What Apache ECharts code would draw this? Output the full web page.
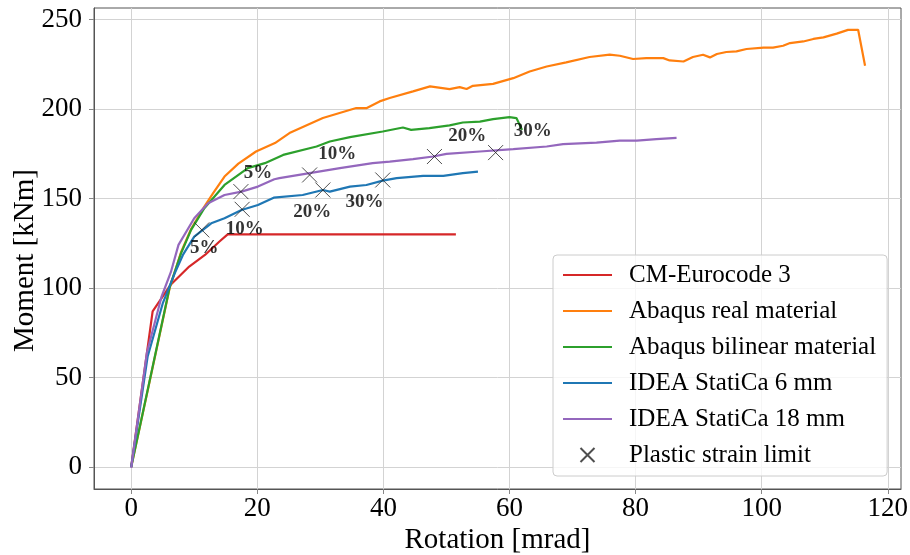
<!DOCTYPE html>
<html>
<head>
<meta charset="utf-8">
<script src="https://cdn.jsdelivr.net/npm/echarts@6/dist/echarts.min.js"></script>
<style>
html,body{margin:0;padding:0;background:#fff;}
#chart{width:910px;height:555px;}
</style>
</head>
<body>
<div id="chart"></div>
<script>
// ---- data ----
var seriesNames = ['CM-Eurocode 3','Abaqus real material','Abaqus bilinear material','IDEA StatiCa 6 mm','IDEA StatiCa 18 mm'];
var markerName = 'Plastic strain limit';

var redX = [0, 3.4, 6.3, 9.2, 11.7, 14, 15.3, 51.5];
var redY = [0, 87, 102, 112, 118.5, 126, 130, 130];

var orangeX = [0, 3, 6.1, 7.9, 9.5, 11.6, 13, 14.8, 17, 19.8, 22.8, 25.1, 30.4, 35.7, 37.3, 39.4, 41, 44.7, 47.4, 50.5, 52.1, 53.2, 54.2, 57.4, 60.6, 63.2, 65.9, 69, 72.7, 75.9, 77.5, 79.6, 81.7, 84.4, 85.4, 87.6, 89.1, 90.7, 91.8, 92.9, 94.4, 96, 97.6, 100.3, 101.8, 103.4, 104.5, 106.6, 108.2, 109.8, 111.9, 113.7, 115.3, 116.4];
var orangeY = [0, 49, 100, 120, 133, 145.5, 153, 162.3, 169.5, 176.3, 181, 186.6, 195, 200.6, 200.5, 204.3, 206.2, 209.9, 212.7, 211.2, 212.3, 211.2, 213, 214.1, 217.3, 221, 223.8, 226.1, 229.1, 230.4, 229.8, 228, 228.5, 228.5, 227.2, 226.6, 229.1, 230.4, 228.9, 230.8, 231.9, 232.3, 233.6, 234.4, 234.4, 235.4, 236.9, 237.8, 239.2, 240.1, 242.2, 244.3, 244.3, 224.2];

var greenX = [0, 6.1, 7.9, 9.5, 11.6, 14.8, 18.5, 21.2, 24.1, 29.4, 31.5, 34.7, 39.9, 43.1, 44.4, 47.3, 50.5, 52.6, 55.3, 57.4, 60, 61.1, 62];
var greenY = [0, 100.5, 119.4, 132.5, 144.6, 157.6, 167, 169.8, 174.4, 179.1, 181.9, 184.3, 187.5, 189.7, 188.4, 189.4, 190.9, 192.5, 193, 194.4, 195.5, 195, 188.4];

var blueX = [0, 2.6, 5, 6.9, 8.2, 10, 12.7, 14.8, 17.5, 20.1, 22.6, 27.2, 30.4, 31.5, 34.7, 37.3, 39.9, 42.1, 46.3, 49.5, 52.6, 55];
var blueY = [0, 61.6, 91.4, 108.2, 118.5, 128.7, 136.2, 139, 143.6, 146.4, 150.5, 152, 154.8, 153.9, 156.7, 157.6, 160, 161.4, 162.7, 162.7, 164.2, 165.1];

var purpleX = [0, 2.5, 4.8, 6.3, 7.5, 10, 12.2, 14.8, 17.5, 20.1, 22.7, 23.5, 28.3, 33.1, 38.3, 41, 44.7, 47.9, 50, 55.3, 60.6, 65.9, 68.5, 73.8, 77.5, 80.2, 83.3, 86.5];
var purpleY = [-0.5, 64, 95, 109, 124.1, 139, 147.4, 152, 153.9, 156.7, 160.8, 161.4, 164.2, 167, 169.8, 170.7, 172, 173.5, 175, 176.3, 177.6, 179.1, 180.4, 181.3, 182.4, 182.4, 183.2, 183.9];

// plastic strain limit markers
var markBlueX = [11.2, 17.6, 30.4, 39.9];
var markBlueY = [132.5, 144, 154.8, 160.4];
var markPurpleX = [17.4, 28.3, 48.1, 57.8];
var markPurpleY = [153.9, 163.2, 173.5, 175.7];

// annotation labels (data coordinates)
var annText = ['5%','10%','20%','30%','5%','10%','20%','30%'];
var annX = [11.6, 18.0, 28.7, 37.0, 20.1, 32.7, 53.3, 63.7];
var annY = [122.2, 132.8, 142.7, 148.3, 164.5, 175.0, 185.1, 187.9];

var xTicks = [0, 20, 40, 60, 80, 100, 120];
var yTicks = [0, 50, 100, 150, 200, 250];

// ---- build ----
function zip(a, b) { return a.map(function (v, i) { return [v, b[i]]; }); }
var colors = ['#d62728', '#ff7f0e', '#2ca02c', '#1f77b4', '#9467bd'];
var xs = [redX, orangeX, greenX, blueX, purpleX];
var ys = [redY, orangeY, greenY, blueY, purpleY];
var FONT = 'Liberation Serif';
var XPATH = 'path://M0,0L10,10M10,0L0,10';

var series = seriesNames.map(function (n, i) {
  return {
    name: n, type: 'line', data: zip(xs[i], ys[i]),
    symbol: 'none', smooth: false, clip: true,
    lineStyle: { width: 2.2, color: colors[i] },
    itemStyle: { color: colors[i] },
    z: 2 + i
  };
});
series.push({
  name: markerName, type: 'scatter',
  data: zip(markBlueX, markBlueY).concat(zip(markPurpleX, markPurpleY)),
  symbol: XPATH, symbolSize: 15,
  itemStyle: { color: 'rgba(0,0,0,0)', borderColor: '#222', borderWidth: 1 },
  z: 10
});
series.push({
  name: 'ann', type: 'scatter',
  data: annX.map(function (v, i) { return { value: [v, annY[i]], txt: annText[i] }; }),
  symbolSize: 0,
  label: {
    show: true, position: 'inside',
    formatter: function (p) { return p.data.txt; },
    fontFamily: FONT, fontWeight: 'bold', fontSize: 19, color: '#000',
    textBorderWidth: 0
  },
  silent: true, z: 11
});

var legendData = seriesNames.map(function (n) {
  return { name: n, itemStyle: { opacity: 0 } };
}).concat([{ name: markerName, icon: XPATH }]);

var chart = echarts.init(document.getElementById('chart'), null, { renderer: 'canvas' });
chart.setOption({
  animation: false,
  backgroundColor: '#fff',
  grid: { left: 94, top: 8, right: 9, bottom: 66, show: true, borderColor: '#555', borderWidth: 1, containLabel: false, outerBoundsMode: 'none' },
  xAxis: {
    type: 'value', min: -5.9, max: 122.1,
    name: 'Rotation [mrad]', nameLocation: 'middle', nameGap: 37, nameMoveOverlap: false,
    nameTextStyle: { fontFamily: FONT, fontSize: 29, color: '#000' },
    axisLine: { show: true, onZero: false, lineStyle: { color: '#555' } },
    axisTick: { show: true, length: 5, lineStyle: { color: '#888' }, customValues: xTicks },
    axisLabel: { fontFamily: FONT, fontSize: 27, color: '#000', margin: 6, customValues: xTicks },
    splitLine: { show: true, lineStyle: { color: '#d3d3d3', width: 1 } }
  },
  yAxis: {
    type: 'value', min: -12.3, max: 256.5,
    name: 'Moment [kNm]', nameLocation: 'middle', nameGap: 54, nameMoveOverlap: false,
    nameTextStyle: { fontFamily: FONT, fontSize: 29, color: '#000', padding: [0, 24, 0, 0] },
    axisLine: { show: true, onZero: false, lineStyle: { color: '#555' } },
    axisTick: { show: true, length: 5, lineStyle: { color: '#888' }, customValues: yTicks },
    axisLabel: { fontFamily: FONT, fontSize: 27, color: '#000', margin: 12, customValues: yTicks },
    splitLine: { show: true, lineStyle: { color: '#d3d3d3', width: 1 } }
  },
  legend: {
    left: 553, top: 255, orient: 'vertical',
    data: legendData,
    itemWidth: 49, itemHeight: 14, itemGap: 10,
    padding: [7, 11, 8, 9],
    backgroundColor: 'rgba(255,255,255,0.8)',
    borderColor: '#ccc', borderWidth: 1, borderRadius: 4,
    textStyle: { fontFamily: FONT, fontSize: 25, color: '#000', lineHeight: 26, padding: [0, 0, 0, 12] },
    selectedMode: false
  },
  series: series
});
</script>
</body>
</html>
